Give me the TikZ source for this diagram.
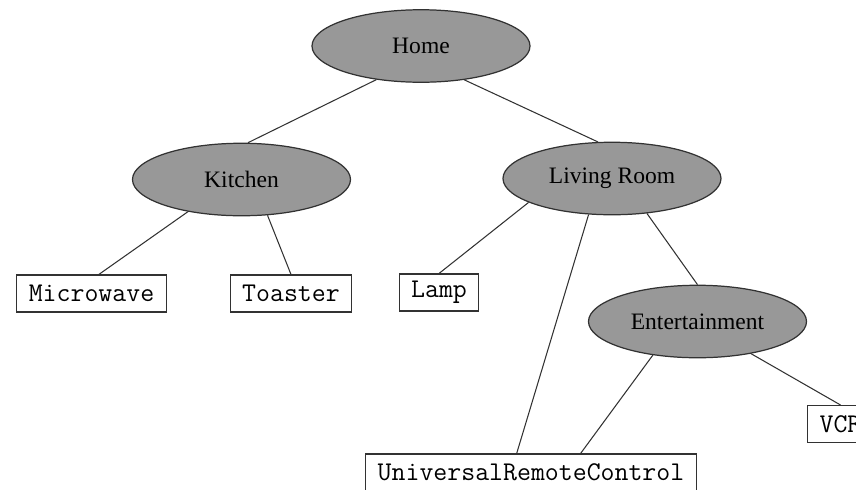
\documentclass[tikz,border=0pt]{standalone}
\usepackage{fontspec}
\setmainfont{Liberation Serif}
\usetikzlibrary{shapes.geometric,positioning}

\definecolor{roomgray}{RGB}{152,152,152}
\definecolor{edgegray}{RGB}{50,50,50}

\tikzset{
  room/.style={ellipse,draw=edgegray,fill=roomgray,line width=0.7pt,
    minimum width=4.36cm,minimum height=1.45cm,inner sep=0pt,
    font=\fontsize{13.4}{16}\selectfont},
  device/.style={rectangle,draw=edgegray,line width=0.6pt,
    minimum height=0.74cm,inner xsep=0.24cm,inner ysep=0pt,
    font=\fontsize{15.4}{18}\selectfont\ttfamily}
}

\begin{document}
\begin{tikzpicture}[node distance=2cm,on grid,every edge/.style={draw=edgegray,line width=0.6pt}]
\useasboundingbox (-8.42,0.92) rectangle (8.70,-8.86);
\node[room] (home) {Home};
\node[room] (kitchen) [below left=2.67cm and 3.59cm of home] {Kitchen};
\node[room] (living) [below right=2.65cm and 3.82cm of home] {Living Room};
\node[room] (ent) [below right=2.86cm and 1.71cm of living] {Entertainment};
\node[device] (micro) [below left=2.28cm and 3.0cm of kitchen] {Microwave};
\node[device] (toaster) [below right=2.28cm and 0.99cm of kitchen] {Toaster};
\node[device] (lamp) [below left=2.28cm and 3.46cm of living] {Lamp};
\node[device] (vcr) [below right=2.05cm and 2.86cm of ent] {VCR};
\node[device] (urc) [below left=3.02cm and 3.33cm of ent] {UniversalRemoteControl};
\path

(home.217) edge (kitchen.80)
(home.322) edge (living.111)

%%
(kitchen.211) edge (micro.69)
(kitchen.306) edge (toaster.north)

%%
(living.196) edge (lamp.north)
(living.237) edge (urc.127)
(living.315) edge (ent.north)

%%%
(ent.217) edge (urc.21.5)
(ent.329) edge (vcr.north)
;
\end{tikzpicture}
\end{document}
